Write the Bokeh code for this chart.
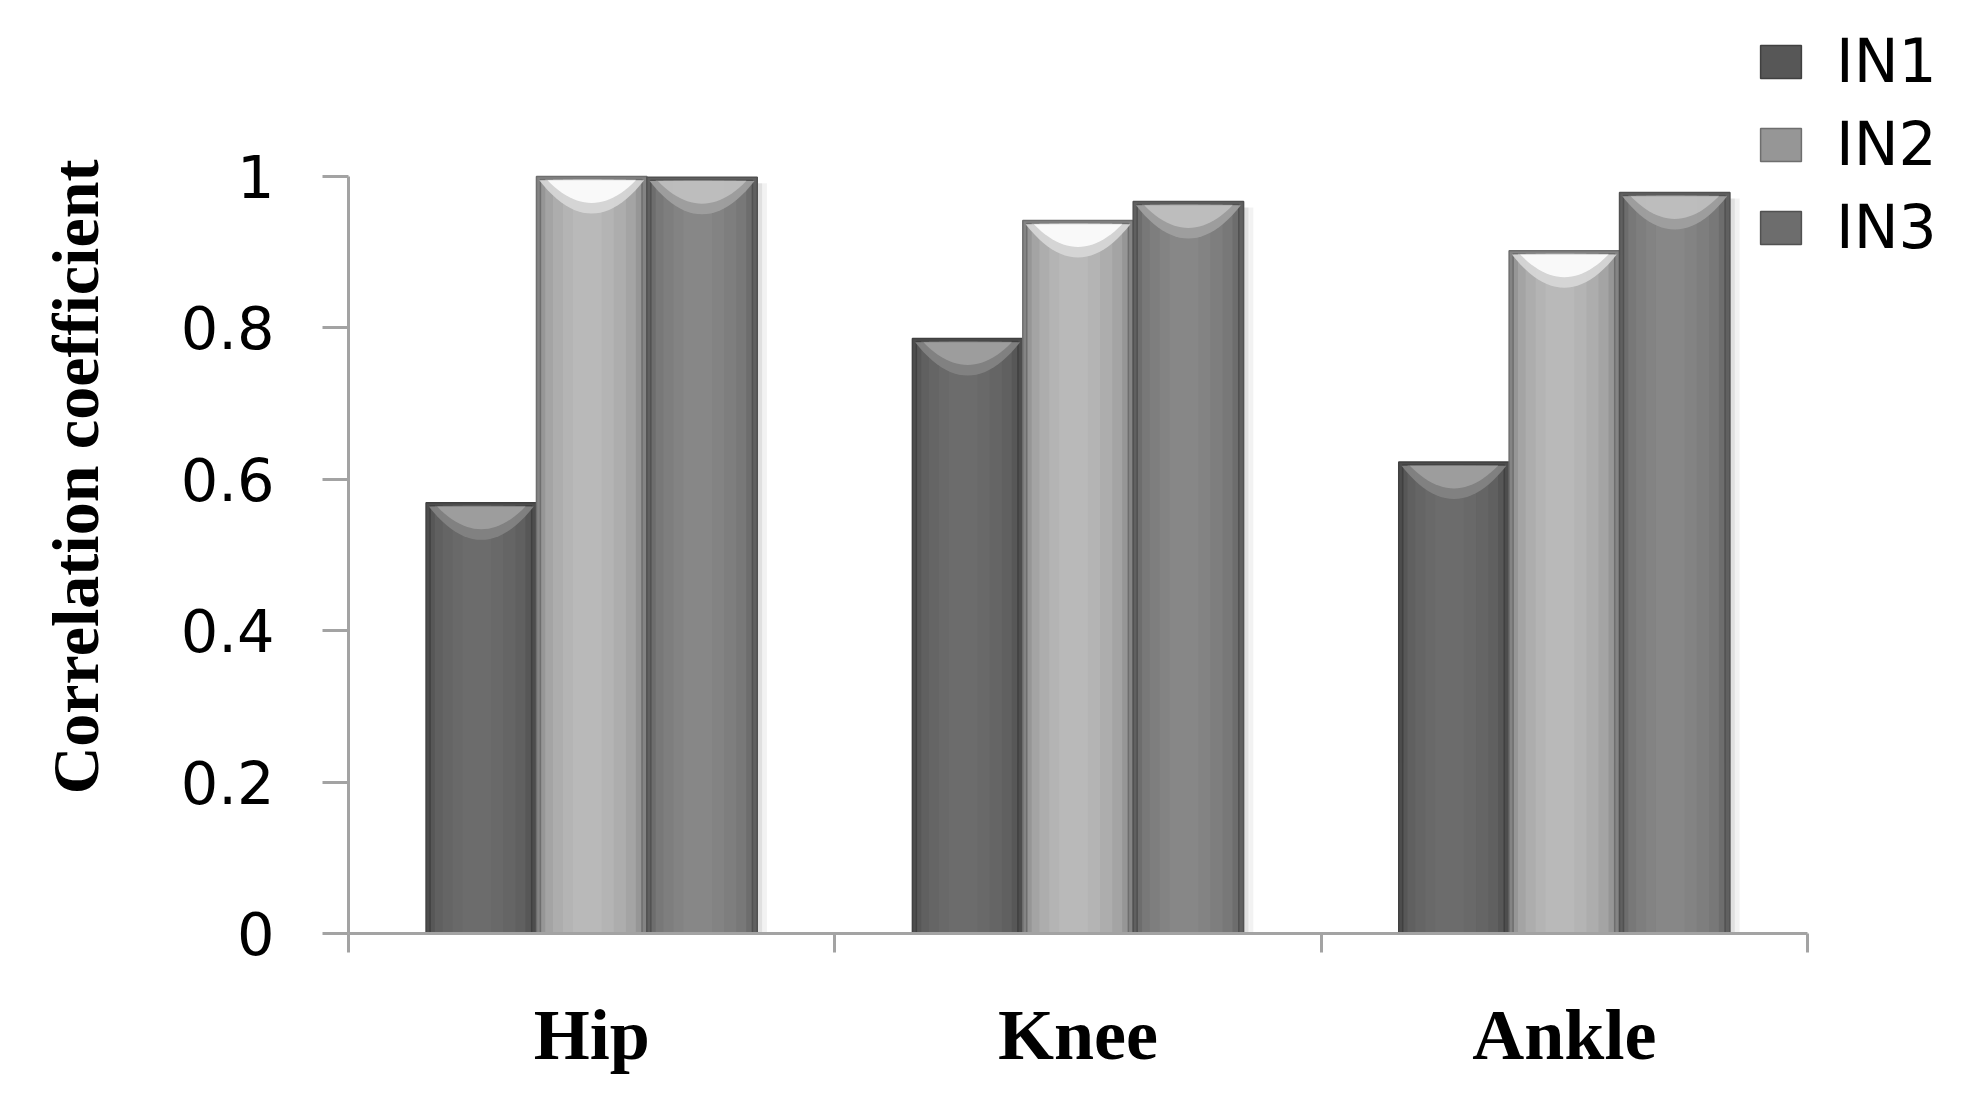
import numpy as np
from bokeh.plotting import figure
from bokeh.models import (ColumnDataSource, Range1d, FixedTicker, Legend,
                          LegendItem)
from bokeh.embed import file_html
from bokeh.resources import INLINE

# ---------------- data ----------------
categories = ["Hip", "Knee", "Ankle"]
series = ["IN1", "IN2", "IN3"]
in1 = [0.569, 0.786, 0.623]
in2 = [1.0, 0.942, 0.902]
in3 = [0.999, 0.967, 0.979]
y_ticks = [0, 0.2, 0.4, 0.6, 0.8, 1]
y_tick_labels = ["0", "0.2", "0.4", "0.6", "0.8", "1"]
y_title = "Correlation coefficient"

values = [in1, in2, in3]

# ---------------- style / layout ----------------
base_colors = [(104, 104, 104), (178, 178, 178), (130, 130, 130)]
highlight_colors = [(160, 160, 160), (253, 253, 253), (192, 192, 192)]
bar_w = 0.227
axis_color = "#a3a3a3"

frame_left = 348          # px, axis position on the canvas
frame_top = 20
frame_w = 1966 - frame_left
frame_h = 933 - frame_top
px_per_cat = 1459 / 3     # plot area of the axis (0..3) in px
px_per_unit = 757         # y: 0..1 in px
x_end = frame_w / px_per_cat
y_end = frame_h / px_per_unit


def hexc(rgb, f=1.0):
    r = [int(max(0, min(255, round(c * f)))) for c in rgb]
    return "#%02x%02x%02x" % tuple(r)


def mix(a, b, t):
    return tuple(int(round(a[i] * (1 - t) + b[i] * t)) for i in range(3))


p = figure(frame_width=frame_w, frame_height=frame_h,
           min_border_left=frame_left, min_border_right=0,
           min_border_top=frame_top, min_border_bottom=150,
           x_range=Range1d(0, x_end), y_range=Range1d(0, y_end),
           output_backend="svg", toolbar_location=None,
           background_fill_color="white", border_fill_color="white")
p.outline_line_color = None
p.grid.visible = False

# x axis: boundary ticks drawn as minor ticks, category labels at centers
xa = p.xaxis[0]
xa.bounds = (0, len(categories))
xa.ticker = FixedTicker(ticks=[i + 0.5 for i in range(len(categories))],
                        minor_ticks=list(range(len(categories) + 1)))
xa.major_label_overrides = {i + 0.5: c for i, c in enumerate(categories)}
xa.major_tick_line_color = None
xa.major_tick_out = 0
xa.major_tick_in = 0
xa.minor_tick_out = 19
xa.minor_tick_in = 0
xa.minor_tick_line_color = axis_color
xa.minor_tick_line_width = 3
xa.axis_line_color = axis_color
xa.axis_line_width = 3
xa.major_label_text_font = "Liberation Serif"
xa.major_label_text_font_style = "bold"
xa.major_label_text_font_size = "72px"
xa.major_label_text_color = "black"
xa.major_label_standoff = 42

ya = p.yaxis[0]
ya.bounds = (0, max(y_ticks))
ya.ticker = FixedTicker(ticks=y_ticks, minor_ticks=[])
ya.major_label_overrides = {t: l for t, l in zip(y_ticks, y_tick_labels)}
ya.major_tick_out = 26
ya.major_tick_in = 0
ya.major_tick_line_color = axis_color
ya.major_tick_line_width = 3
ya.minor_tick_line_color = None
ya.axis_line_color = axis_color
ya.axis_line_width = 3
ya.major_label_text_font = "DejaVu Sans"
ya.major_label_text_font_size = "59px"
ya.major_label_text_color = "black"
ya.major_label_standoff = 48
ya.axis_label = y_title
ya.axis_label_text_font = "Liberation Serif"
ya.axis_label_text_font_style = "bold"
ya.axis_label_text_font_size = "66px"
ya.axis_label_text_color = "black"
ya.axis_label_standoff = 66

# ---------------- bars ----------------
layers = [(1.0, 0.0, 0.74), (0.92, -0.004, 0.84), (0.82, -0.01, 0.92),
          (0.66, -0.02, 0.97), (0.46, -0.03, 1.01), (0.26, -0.04, 1.04)]
xc_all = np.arange(len(categories)) + 0.5

# soft drop shadow behind the bars
for j, vals in enumerate(values):
    vals = np.asarray(vals, dtype=float)
    xc = xc_all + (j - 1) * bar_w
    for off, a in [(0.010, 0.07), (0.020, 0.05)]:
        p.vbar(x=xc + off, top=vals - 0.008, bottom=-0.012, width=bar_w,
               fill_color="black", fill_alpha=a, line_color=None)

legend_items = []
for j, (name, vals) in enumerate(zip(series, values)):
    vals = np.asarray(vals, dtype=float)
    xc = xc_all + (j - 1) * bar_w
    base = base_colors[j]
    leg_r = None
    for k, (wf, off, f) in enumerate(layers):
        src = ColumnDataSource(dict(x=xc + off * bar_w,
                                    top=vals - (0 if k == 0 else 0.004)))
        r = p.vbar(x="x", top="top", bottom=0, width=bar_w * wf, source=src,
                   fill_color=hexc(base, f),
                   line_color=hexc(base, 0.62) if k in (0, 1) else None,
                   line_width=1.5)
        if k == 1:
            leg_r = r
    legend_items.append(LegendItem(label=name, renderers=[leg_r]))

    # glossy crescent highlight at the bar tops
    hl = highlight_colors[j]
    for wf, depth, col in [(0.95, 0.044, mix(base, hl, 0.5)),
                           (0.80, 0.030, hl)]:
        xs_list, ys_list = [], []
        for x0, v in zip(xc, vals):
            hw = bar_w * wf / 2
            t = v - 0.005
            cx = np.linspace(x0 + hw, x0 - hw, 25)
            cy = t - depth * (1 - ((cx - x0) / hw) ** 2)
            xs_list.append([x0 - hw, x0 + hw] + list(cx))
            ys_list.append([t, t] + list(cy))
        p.patches(xs=xs_list, ys=ys_list, fill_color=hexc(col),
                  line_color=None, fill_alpha=0.9)

# ---------------- legend ----------------
legend = Legend(items=legend_items, location=(1407, 671),
                glyph_width=51, glyph_height=41, label_standoff=30,
                label_text_font="DejaVu Sans", label_text_font_size="60px",
                label_text_color="black", spacing=13, padding=0, margin=0,
                border_line_color=None, background_fill_alpha=0)
p.add_layout(legend)

open("out.html", "w").write(file_html(p, INLINE))
